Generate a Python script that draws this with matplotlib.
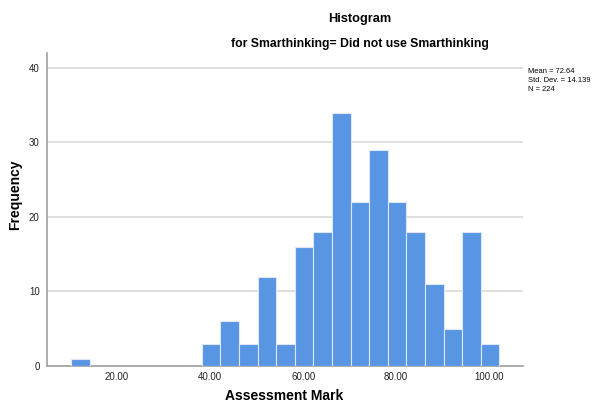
import matplotlib.pyplot as plt
import numpy as np

# bin left edges (width 4) and counts
bin_left = [10.2, 38.2, 42.2, 46.2, 50.2, 54.2, 58.2, 62.2, 66.2, 70.2,
            74.2, 78.2, 82.2, 86.2, 90.2, 94.2, 98.2]
counts = [1, 3, 6, 3, 12, 3, 16, 18, 34, 22, 29, 22, 18, 11, 5, 18, 3]
bin_width = 4.0

xticks = [20, 40, 60, 80, 100]
xtick_labels = ['20.00', '40.00', '60.00', '80.00', '100.00']
yticks = [0, 10, 20, 30, 40]

stats = 'Mean = 72.64\nStd. Dev. = 14.139\nN = 224'

plt.rcParams['font.family'] = ['Liberation Sans', 'DejaVu Sans']

fig = plt.figure(figsize=(6.05, 4.05), dpi=100)
ax = fig.add_axes([0.0772, 0.0963, 0.7868, 0.7727])

ax.bar(bin_left, counts, width=bin_width, align='edge',
       color='#5895E3', edgecolor='#DCE8F8', linewidth=0.8, zorder=3)

ax.set_xlim(4.88, 107.2)
ax.set_ylim(0, 42)
ax.set_xticks(xticks)
ax.set_xticklabels(xtick_labels, fontsize=7)
ax.set_yticks(yticks)
ax.set_yticklabels([str(t) for t in yticks], fontsize=7)
ax.tick_params(axis='both', length=0, colors='#222222')
ax.tick_params(axis='x', pad=4)
ax.tick_params(axis='y', pad=5)

ax.grid(axis='y', color='#D9D9D9', linewidth=1.2, zorder=0)
for side in ['top', 'right']:
    ax.spines[side].set_visible(False)
for side in ['left', 'bottom']:
    ax.spines[side].set_color('#A0A0A0')
    ax.spines[side].set_linewidth(1.2)

fig.text(0.47, 0.022, 'Assessment Mark', ha='center', va='center',
         fontsize=10, fontweight='bold')
fig.text(0.025, 0.52, 'Frequency', ha='center', va='center',
         rotation=90, fontsize=10, fontweight='bold')

fig.text(0.595, 0.952, 'Histogram', ha='center', va='center',
         fontsize=9.2, fontweight='bold')
fig.text(0.595, 0.892, 'for Smarthinking= Did not use Smarthinking',
         ha='center', va='center', fontsize=8.8, fontweight='bold')
fig.text(0.873, 0.832, stats, ha='left', va='top', fontsize=5.4,
         linespacing=1.35)

fig.savefig('out.png', dpi=100)
